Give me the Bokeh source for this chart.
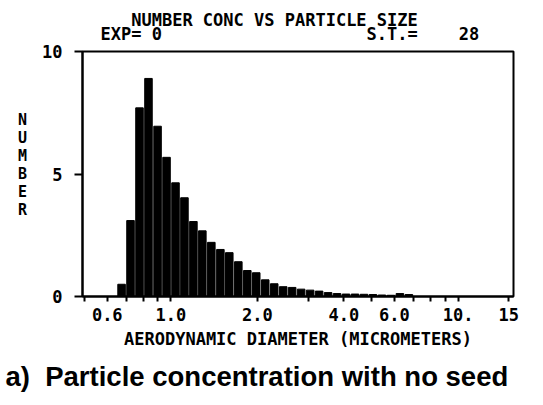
from bokeh.plotting import figure
from bokeh.models import Title, FixedTicker, ColumnDataSource
from bokeh.embed import file_html
from bokeh.resources import INLINE
import numpy as np

# --- data ---
diameter_um = [0.673, 0.723, 0.777, 0.835, 0.898, 0.965, 1.037, 1.114, 1.197, 1.286,
               1.382, 1.486, 1.596, 1.716, 1.844, 1.981, 2.129, 2.288, 2.459, 2.642,
               2.839, 3.051, 3.279, 3.524, 3.787, 4.069, 4.373, 4.699, 5.050, 5.427,
               5.832, 6.267, 6.735]
number = [0.5, 3.1, 7.7, 8.9, 6.95, 5.68, 4.64, 4.03, 3.06, 2.68,
          2.21, 1.92, 1.79, 1.42, 1.06, 0.97, 0.68, 0.52, 0.40, 0.37,
          0.30, 0.26, 0.22, 0.16, 0.12, 0.10, 0.10, 0.09, 0.08, 0.06,
          0.05, 0.12, 0.08]
x_ticks = [0.5, 0.6, 0.7, 0.8, 0.9, 1.0, 2.0, 3.0, 4.0, 5.0, 6.0, 7.0, 8.0, 9.0, 10.0, 15.0]
x_tick_labels = ["", "0.6", "", "", "", "1.0", "2.0", "", "4.0", "", "6.0", "", "", "", "10.", "15"]
y_ticks = [0, 5, 10]
y_tick_labels = ["0", "5", "10"]

W, H = 543, 405
FL, FR, FT, FB = 82, 513, 51, 296   # frame edges on the page
MONO = "DejaVu Sans Mono"
NB = "\u00a0"

half = 10 ** (0.42 / 32)
d = np.array(diameter_um)
src = ColumnDataSource(dict(left=d / half, right=d * half, top=number, bottom=[0] * len(number)))

p = figure(width=W, height=H, x_axis_type="log", x_range=(0.492, 15.58), y_range=(0, 10),
           output_backend="svg", toolbar_location=None,
           min_border_left=FL, min_border_right=W - FR, min_border_top=FT, min_border_bottom=H - FB)
p.title.visible = False
p.grid.visible = False
p.outline_line_color = "black"
p.outline_line_width = 2
p.background_fill_color = "white"
p.border_fill_color = "white"

p.quad(left="left", right="right", top="top", bottom="bottom", source=src,
       fill_color="black", line_color="black", line_width=1)

xa = p.xaxis[0]
xa.ticker = FixedTicker(ticks=x_ticks, minor_ticks=[])
xa.major_label_overrides = {t: l for t, l in zip(x_ticks, x_tick_labels)}
xa.axis_line_width = 2
xa.major_tick_line_width = 2
xa.major_tick_out = 5
xa.major_tick_in = 0
xa.minor_tick_out = 0
xa.minor_tick_in = 0
xa.major_label_standoff = 6
xa.major_label_text_font = MONO
xa.major_label_text_font_style = "bold"
xa.major_label_text_font_size = "17px"
xa.major_label_text_color = "black"
xa.axis_label = "AERODYNAMIC DIAMETER (MICROMETERS)"
xa.axis_label_text_font = MONO
xa.axis_label_text_font_style = "bold"
xa.axis_label_text_font_size = "17px"
xa.axis_label_text_color = "black"
xa.axis_label_standoff = 5

ya = p.yaxis[0]
ya.ticker = FixedTicker(ticks=y_ticks, minor_ticks=[])
ya.major_label_overrides = {t: l for t, l in zip(y_ticks, y_tick_labels)}
ya.axis_line_width = 2
ya.major_tick_line_width = 2
ya.major_tick_out = 8
ya.major_tick_in = 0
ya.minor_tick_out = 0
ya.minor_tick_in = 0
ya.major_label_standoff = 12
ya.major_label_text_font = MONO
ya.major_label_text_font_style = "bold"
ya.major_label_text_font_size = "17px"
ya.major_label_text_color = "black"
ya.major_label_orientation = "horizontal"
ya.axis_label = "\n".join("NUMBER") + "\n" + NB
ya.axis_label_orientation = "horizontal"
ya.axis_label_text_font = MONO
ya.axis_label_text_font_style = "bold"
ya.axis_label_text_font_size = "15px"
ya.axis_label_text_line_height = 1.0
ya.axis_label_text_color = "black"
ya.axis_label_standoff = 12

# two-line heading in one title
title_line = NB * 3 + "NUMBER CONC VS PARTICLE SIZE"
exp_line = "EXP= 0" + NB * 20 + "S.T.=" + NB * 4 + "28"
p.add_layout(Title(text=title_line + "\n" + exp_line, align="left", offset=100 - FL, standoff=14,
                   text_font=MONO, text_font_style="bold", text_font_size="17px",
                   text_line_height=0.72, text_color="black"), "above")
p.add_layout(Title(text="a)" + NB * 2 + "Particle concentration with no seed", align="left",
                   offset=5 - FL, standoff=14,
                   text_font="Liberation Sans", text_font_style="bold", text_font_size="27.5px",
                   text_color="black"), "below")

open("out.html", "w").write(file_html(p, INLINE))
